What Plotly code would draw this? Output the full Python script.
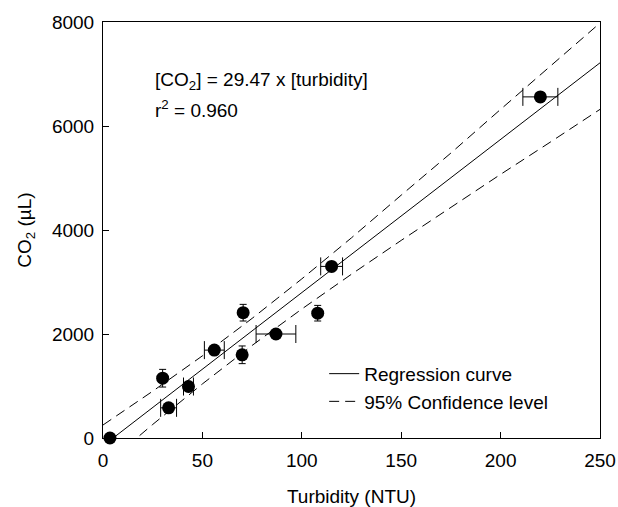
import plotly.graph_objects as go

# ---- data ----
turbidity = [3.5, 30, 33, 43, 56, 70.5, 70, 87, 108, 115, 220]
co2 = [0, 1150, 580, 990, 1690, 2410, 1600, 2000, 2400, 3300, 6560]
turb_err = [0, 0, 4, 2.5, 5, 0, 0, 10, 0, 5.5, 8.8]
co2_err = [0, 170, 0, 0, 0, 160, 170, 0, 150, 0, 0]

reg_x = [0, 250]
reg_y = [-150, 7215]

band_x = [0, 25, 50, 75, 100, 125, 150, 175, 200, 225, 250]
band_upper = [250, 900, 1580, 2300, 3060, 3850, 4670, 5480, 6320, 7150, 7980]
band_lower = [-550, 260, 1040, 1780, 2480, 3150, 3800, 4440, 5070, 5690, 6320]

x_ticks = [0, 50, 100, 150, 200, 250]
y_ticks = [0, 2000, 4000, 6000, 8000]

FONT = "Liberation Sans, Arial, sans-serif"
BLACK = "#000000"
FS = 19

fig = go.Figure()

fig.add_trace(go.Scatter(x=reg_x, y=reg_y, mode="lines", name="Regression curve",
                         line=dict(color=BLACK, width=1), hoverinfo="skip"))
fig.add_trace(go.Scatter(x=band_x, y=band_upper, mode="lines", name="95% Confidence level",
                         line=dict(color=BLACK, width=1, dash="10px,6px"), hoverinfo="skip"))
fig.add_trace(go.Scatter(x=band_x, y=band_lower, mode="lines", showlegend=False,
                         line=dict(color=BLACK, width=1, dash="10px,6px"), hoverinfo="skip"))

iy = [i for i in range(len(turbidity)) if co2_err[i] > 0]
ix = [i for i in range(len(turbidity)) if turb_err[i] > 0]
i0 = [i for i in range(len(turbidity)) if co2_err[i] == 0 and turb_err[i] == 0]

marker = dict(color=BLACK, size=13)
fig.add_trace(go.Scatter(x=[turbidity[i] for i in iy], y=[co2[i] for i in iy], mode="markers",
                         marker=marker, showlegend=False, cliponaxis=False,
                         error_y=dict(type="data", array=[co2_err[i] for i in iy],
                                      color=BLACK, thickness=1, width=3.5)))
fig.add_trace(go.Scatter(x=[turbidity[i] for i in ix], y=[co2[i] for i in ix], mode="markers",
                         marker=marker, showlegend=False, cliponaxis=False,
                         error_x=dict(type="data", array=[turb_err[i] for i in ix],
                                      color=BLACK, thickness=1, width=9)))
fig.add_trace(go.Scatter(x=[turbidity[i] for i in i0], y=[co2[i] for i in i0], mode="markers",
                         marker=marker, showlegend=False, cliponaxis=False))

fig.add_annotation(x=0.10, y=0.858, xref="paper", yref="paper", xanchor="left", yanchor="middle",
                   text="[CO<sub>2</sub>] = 29.47 x [turbidity]", showarrow=False,
                   font=dict(family=FONT, size=FS, color=BLACK))
fig.add_annotation(x=0.10, y=0.79, xref="paper", yref="paper", xanchor="left", yanchor="middle",
                   text="r<sup>2</sup> = 0.960", showarrow=False,
                   font=dict(family=FONT, size=FS, color=BLACK))

axis_common = dict(showgrid=False, zeroline=False, showline=True, linecolor=BLACK, linewidth=1,
                   mirror=True, ticks="inside", ticklen=6, tickcolor=BLACK, tickwidth=1,
                   automargin=False,
                   tickfont=dict(family=FONT, size=FS, color=BLACK))

fig.update_layout(
    width=618, height=507,
    margin=dict(l=103, r=18, t=22, b=69),
    paper_bgcolor="white", plot_bgcolor="white",
    font=dict(family=FONT, size=FS, color=BLACK),
    xaxis=dict(range=[0, 250], tickvals=x_ticks, ticktext=[str(v) for v in x_ticks],
               ticklabelstandoff=5,
               title=dict(text="Turbidity (NTU)", font=dict(family=FONT, size=FS, color=BLACK), standoff=19),
               **axis_common),
    yaxis=dict(range=[0, 8000], tickvals=y_ticks, ticktext=[str(v) for v in y_ticks],
               ticklabelstandoff=4,
               title=dict(text="CO<sub>2</sub> (µL)", font=dict(family=FONT, size=FS, color=BLACK), standoff=15),
               **axis_common),
    legend=dict(x=0.445, y=0.20, xanchor="left", yanchor="top", bgcolor="rgba(0,0,0,0)",
                font=dict(family=FONT, size=FS, color=BLACK), tracegroupgap=0),
    showlegend=True,
    hovermode=False,
)

fig.write_html("out.html", config={"displayModeBar": False},
               post_script="document.body.style.margin='0';document.body.style.overflow='hidden';")
